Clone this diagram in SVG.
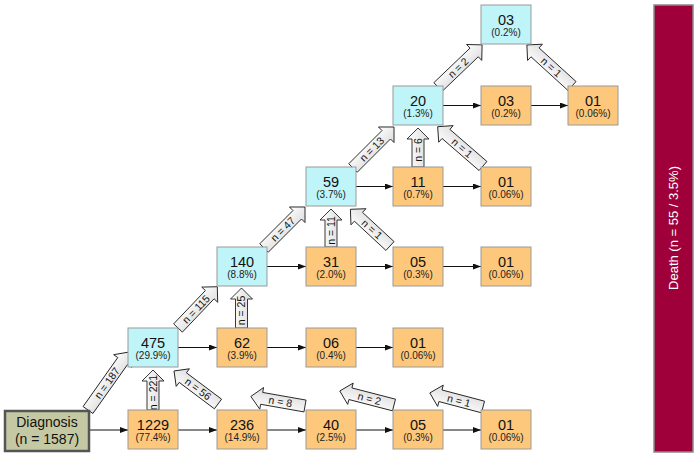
<svg xmlns="http://www.w3.org/2000/svg" width="700" height="455" viewBox="0 0 700 455">
<style>
.n rect{stroke:#9a9a9a;stroke-width:1}
.cy rect{fill:#bff4f9}
.or rect{fill:#fdc87b}
.num{font-family:"Liberation Sans",Arial,sans-serif;font-size:14.5px;fill:#111;text-anchor:middle}
.pct{font-family:"Liberation Sans",Arial,sans-serif;font-size:10px;fill:#222;text-anchor:middle}
.ln{stroke:#111;stroke-width:1;fill:none;marker-end:url(#ah)}
.ba path{fill:url(#bg);stroke:#222;stroke-width:0.9}
.ba text{font-family:"Liberation Sans",Arial,sans-serif;font-size:10.5px;fill:#111;text-anchor:middle}
</style>
<defs>
<marker id="ah" markerUnits="userSpaceOnUse" markerWidth="8" markerHeight="6" refX="8" refY="3" orient="auto"><path d="M0,0L8,3L0,6z" fill="#111"/></marker>
<linearGradient id="bg" x1="0" y1="0" x2="0" y2="1"><stop offset="0" stop-color="#ffffff"/><stop offset="1" stop-color="#dcdcdc"/></linearGradient>
</defs>
<rect width="700" height="455" fill="#ffffff"/>

<g id="connectors">
<line class="ln" x1="89" y1="430" x2="128" y2="430"/>
<line class="ln" x1="178" y1="430" x2="217" y2="430"/>
<line class="ln" x1="267" y1="430" x2="306" y2="430"/>
<line class="ln" x1="356" y1="430" x2="393" y2="430"/>
<line class="ln" x1="443" y1="430" x2="481" y2="430"/>
<line class="ln" x1="178" y1="347.5" x2="217" y2="347.5"/>
<line class="ln" x1="267" y1="347.5" x2="306" y2="347.5"/>
<line class="ln" x1="356" y1="347.5" x2="393" y2="347.5"/>
<line class="ln" x1="267" y1="266.5" x2="306" y2="266.5"/>
<line class="ln" x1="356" y1="266.5" x2="393" y2="266.5"/>
<line class="ln" x1="443" y1="266.5" x2="481" y2="266.5"/>
<line class="ln" x1="356" y1="186.5" x2="393" y2="186.5"/>
<line class="ln" x1="443" y1="186.5" x2="481" y2="186.5"/>
<line class="ln" x1="443" y1="105.5" x2="481" y2="105.5"/>
<line class="ln" x1="531" y1="105.5" x2="568" y2="105.5"/>

<g class="ba" transform="translate(88,410) rotate(-54.7)"><path d="M0,-6H60V-11L71,0L60,11V6H0Z"/><text x="33" y="0" dy="0.35em">n = 187</text></g>
<g class="ba" transform="translate(153,410) rotate(-90)"><path d="M0,-6H29V-11L40,0L29,11V6H0Z"/><text x="17.5" y="0" dy="0.35em">n = 221</text></g>
<g class="ba" transform="translate(218,404) rotate(-143.1)"><path d="M0,-6H44V-11L55,0L44,11V6H0Z"/><text x="25" y="0" dy="0.35em" transform="rotate(180 25 0)">n = 56</text></g>
<g class="ba" transform="translate(178,328) rotate(-46.4)"><path d="M0,-6H46V-11L57,0L46,11V6H0Z"/><text x="26" y="0" dy="0.35em">n = 115</text></g>
<g class="ba" transform="translate(241.5,328) rotate(-90)"><path d="M0,-6H29V-11L40,0L29,11V6H0Z"/><text x="17.5" y="0" dy="0.35em">n = 25</text></g>
<g class="ba" transform="translate(264,248) rotate(-45)"><path d="M0,-6H47V-11L58,0L47,11V6H0Z"/><text x="26.5" y="0" dy="0.35em">n = 47</text></g>
<g class="ba" transform="translate(331,247) rotate(-90)"><path d="M0,-6H27V-11L38,0L27,11V6H0Z"/><text x="16.5" y="0" dy="0.35em">n = 11</text></g>
<g class="ba" transform="translate(390,246) rotate(-137.2)"><path d="M0,-6H43V-11L54,0L43,11V6H0Z"/><text x="24.5" y="0" dy="0.35em" transform="rotate(180 24.5 0)">n = 1</text></g>
<g class="ba" transform="translate(353,168) rotate(-45)"><path d="M0,-6H47V-11L58,0L47,11V6H0Z"/><text x="26.5" y="0" dy="0.35em">n = 13</text></g>
<g class="ba" transform="translate(418,167) rotate(-90)"><path d="M0,-6H28V-11L39,0L28,11V6H0Z"/><text x="17" y="0" dy="0.35em">n = 6</text></g>
<g class="ba" transform="translate(483,166) rotate(-139.1)"><path d="M0,-6H49V-11L60,0L49,11V6H0Z"/><text x="27.5" y="0" dy="0.35em" transform="rotate(180 27.5 0)">n = 1</text></g>
<g class="ba" transform="translate(438,87) rotate(-43.7)"><path d="M0,-6H50V-11L61,0L50,11V6H0Z"/><text x="28" y="0" dy="0.35em">n = 2</text></g>
<g class="ba" transform="translate(572,86) rotate(-137.7)"><path d="M0,-6H50V-11L61,0L50,11V6H0Z"/><text x="28" y="0" dy="0.35em" transform="rotate(180 28 0)">n = 1</text></g>
<g class="ba" transform="translate(305,406) rotate(-170)"><path d="M0,-6H44V-11L55,0L44,11V6H0Z"/><text x="25" y="0" dy="0.35em" transform="rotate(180 25 0)">n = 8</text></g>
<g class="ba" transform="translate(394,405) rotate(-165.5)"><path d="M0,-6H45V-11L56,0L45,11V6H0Z"/><text x="25.5" y="0" dy="0.35em" transform="rotate(180 25.5 0)">n = 2</text></g>
<g class="ba" transform="translate(483,407) rotate(-165.2)"><path d="M0,-6H44V-11L55,0L44,11V6H0Z"/><text x="25" y="0" dy="0.35em" transform="rotate(180 25 0)">n = 1</text></g>
</g>

<g id="diagnosis"><rect x="5" y="411" width="84" height="40" fill="#c5c9a3" stroke="#555" stroke-width="2.5"/>
<text class="num" x="47" y="427" style="font-size:14px">Diagnosis</text><text class="num" x="47" y="444" style="font-size:14px">(n = 1587)</text></g>

<g id="r0c0" class="n or"><rect x="128" y="410" width="50" height="39"/><text class="num" x="153" y="430">1229</text><text class="pct" x="153" y="441">(77.4%)</text></g>
<g id="r0c1" class="n or"><rect x="217" y="410" width="50" height="39"/><text class="num" x="242" y="430">236</text><text class="pct" x="242" y="441">(14.9%)</text></g>
<g id="r0c2" class="n or"><rect x="306" y="410" width="50" height="39"/><text class="num" x="331" y="430">40</text><text class="pct" x="331" y="441">(2.5%)</text></g>
<g id="r0c3" class="n or"><rect x="393" y="410" width="50" height="39"/><text class="num" x="418" y="430">05</text><text class="pct" x="418" y="441">(0.3%)</text></g>
<g id="r0c4" class="n or"><rect x="481" y="410" width="50" height="39"/><text class="num" x="506" y="430">01</text><text class="pct" x="506" y="441">(0.06%)</text></g>

<g id="r1c0" class="n cy"><rect x="128" y="328" width="50" height="39"/><text class="num" x="153" y="348">475</text><text class="pct" x="153" y="359">(29.9%)</text></g>
<g id="r1c1" class="n or"><rect x="217" y="328" width="50" height="39"/><text class="num" x="242" y="348">62</text><text class="pct" x="242" y="359">(3.9%)</text></g>
<g id="r1c2" class="n or"><rect x="306" y="328" width="50" height="39"/><text class="num" x="331" y="348">06</text><text class="pct" x="331" y="359">(0.4%)</text></g>
<g id="r1c3" class="n or"><rect x="393" y="328" width="50" height="39"/><text class="num" x="418" y="348">01</text><text class="pct" x="418" y="359">(0.06%)</text></g>

<g id="r2c1" class="n cy"><rect x="217" y="247" width="50" height="39"/><text class="num" x="242" y="267">140</text><text class="pct" x="242" y="278">(8.8%)</text></g>
<g id="r2c2" class="n or"><rect x="306" y="247" width="50" height="39"/><text class="num" x="331" y="267">31</text><text class="pct" x="331" y="278">(2.0%)</text></g>
<g id="r2c3" class="n or"><rect x="393" y="247" width="50" height="39"/><text class="num" x="418" y="267">05</text><text class="pct" x="418" y="278">(0.3%)</text></g>
<g id="r2c4" class="n or"><rect x="481" y="247" width="50" height="39"/><text class="num" x="506" y="267">01</text><text class="pct" x="506" y="278">(0.06%)</text></g>

<g id="r3c2" class="n cy"><rect x="306" y="167" width="50" height="39"/><text class="num" x="331" y="187">59</text><text class="pct" x="331" y="198">(3.7%)</text></g>
<g id="r3c3" class="n or"><rect x="393" y="167" width="50" height="39"/><text class="num" x="418" y="187">11</text><text class="pct" x="418" y="198">(0.7%)</text></g>
<g id="r3c4" class="n or"><rect x="481" y="167" width="50" height="39"/><text class="num" x="506" y="187">01</text><text class="pct" x="506" y="198">(0.06%)</text></g>

<g id="r4c3" class="n cy"><rect x="393" y="86" width="50" height="39"/><text class="num" x="418" y="106">20</text><text class="pct" x="418" y="117">(1.3%)</text></g>
<g id="r4c4" class="n or"><rect x="481" y="86" width="50" height="39"/><text class="num" x="506" y="106">03</text><text class="pct" x="506" y="117">(0.2%)</text></g>
<g id="r4c5" class="n or"><rect x="568" y="86" width="50" height="39"/><text class="num" x="593" y="106">01</text><text class="pct" x="593" y="117">(0.06%)</text></g>

<g id="r5c4" class="n cy"><rect x="481" y="5" width="50" height="39"/><text class="num" x="506" y="25">03</text><text class="pct" x="506" y="36">(0.2%)</text></g>

<g id="death"><rect x="654" y="5" width="39" height="447" fill="#a0003a" stroke="#8a8a8a" stroke-width="1.5"/>
<text x="673.5" y="228" transform="rotate(-90 673.5 228)" dy="0.35em" text-anchor="middle" style="font-family:'Liberation Sans',Arial,sans-serif;font-size:13px;fill:#ffffff">Death (n = 55 / 3.5%)</text></g>
</svg>
